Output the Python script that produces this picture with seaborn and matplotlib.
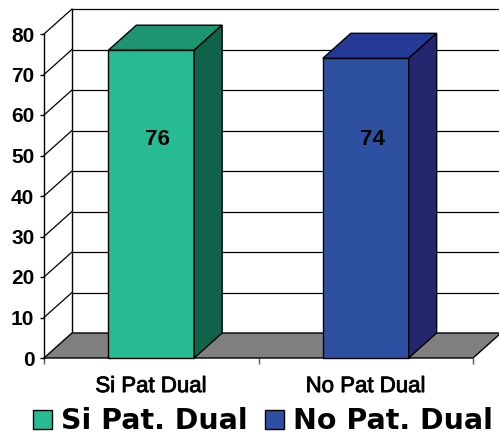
import matplotlib
matplotlib.use("Agg")
import matplotlib.pyplot as plt
import matplotlib.patheffects as pe
import seaborn as sns
import pandas as pd
from matplotlib.patches import Polygon, Patch

# Data
categories = ["Si Pat Dual", "No Pat Dual"]
values = [76, 74]
legend_labels = ["Si Pat. Dual", "No Pat. Dual"]
y_ticks = [0, 10, 20, 30, 40, 50, 60, 70, 80]

# Face colours (front, top, side) for each series
front_colors = ["#27BB93", "#2E50A0"]
top_colors = ["#1E9571", "#243A96"]
side_colors = ["#0F634A", "#25276E"]

sns.set_theme(style="white")
plt.rcParams["font.family"] = ["Liberation Sans", "DejaVu Sans"]
plt.rcParams["text.color"] = "black"
plt.rcParams["xtick.color"] = "black"
plt.rcParams["ytick.color"] = "black"

W, H = 499, 437
fig = plt.figure(figsize=(W / 100, H / 100), dpi=100)
ax = fig.add_axes([44 / W, 79 / H, 429 / W, 324 / H])
ax.set_facecolor("none")

df = pd.DataFrame({"cat": categories, "val": values})
sns.barplot(data=df, x="cat", y="val", hue="cat", palette=front_colors,
            width=0.4, saturation=1, edgecolor="black", linewidth=1,
            legend=False, ax=ax)

ax.set_xlim(-0.5, 1.5)
ax.set_ylim(0, 80)

# depth of the pseudo-3D box in data units
dx = 28 / (429 / 2)
dy = 25 / (324 / 80)
x_left, x_right = -0.5, 1.5

# back wall grid lines and left side wall diagonals
for t in y_ticks:
    if t > 0:
        ax.plot([x_left + dx, x_right + dx + 0.2], [t + dy, t + dy],
                color="black", lw=0.9, zorder=0.5, clip_on=False)
        ax.plot([x_left, x_left + dx], [t, t + dy],
                color="black", lw=0.9, zorder=0.5, clip_on=False)
ax.plot([x_left + dx, x_left + dx], [dy, 80 + dy], color="black", lw=1,
        zorder=0.5, clip_on=False)

# floor
floor = Polygon([(x_left, 0), (x_right, 0), (x_right + dx, dy), (x_left + dx, dy)],
                closed=True, facecolor="#808080", edgecolor="black", lw=1,
                zorder=1, clip_on=False)
ax.add_patch(floor)

# bar top and side faces
for i, p in enumerate(ax.patches[:len(values)]):
    x0, w, h = p.get_x(), p.get_width(), p.get_height()
    p.set_zorder(3)
    p.set_clip_on(False)
    top = Polygon([(x0, h), (x0 + w, h), (x0 + w + dx, h + dy), (x0 + dx, h + dy)],
                  closed=True, facecolor=top_colors[i], edgecolor="black",
                  lw=1, zorder=3, clip_on=False)
    side = Polygon([(x0 + w, 0), (x0 + w + dx, dy), (x0 + w + dx, h + dy), (x0 + w, h)],
                   closed=True, facecolor=side_colors[i], edgecolor="black",
                   lw=1, zorder=3, clip_on=False)
    ax.add_patch(top)
    ax.add_patch(side)
    ax.text(i + 0.03, 54, f"{values[i]}", ha="center", va="center",
            fontsize=16, fontweight="bold", color="black", zorder=5)

# axes styling
for s in ["top", "right", "bottom"]:
    ax.spines[s].set_visible(False)
ax.spines["left"].set_color("black")
ax.spines["left"].set_linewidth(1)
ax.spines["left"].set_zorder(2)

ax.set_yticks(y_ticks)
ax.set_yticklabels([str(t) for t in y_ticks], fontsize=15, fontweight="bold")
ax.tick_params(axis="y", which="major", left=True, length=3, width=1,
               color="black", pad=4, labelcolor="black")

ax.set_xticks([0, 1])
ax.set_xticklabels(categories, fontsize=16, color="black")
for lbl in ax.get_xticklabels():
    lbl.set_path_effects([pe.withStroke(linewidth=0.6, foreground="black")])
ax.tick_params(axis="x", which="major", length=0, pad=13)
ax.set_xticks([-0.5, 0.5, 1.5], minor=True)
ax.tick_params(axis="x", which="minor", bottom=True, length=4, width=1,
               color="#555555")
ax.set_xlabel("")
ax.set_ylabel("")

handles = [Patch(facecolor=c, edgecolor="black", linewidth=1) for c in front_colors]
fig.legend(handles, legend_labels, loc="center", bbox_to_anchor=(0.527, 0.036),
           ncol=2, frameon=False, handlelength=0.68, handleheight=0.68,
           handletextpad=0.32, columnspacing=0.6, borderpad=0,
           labelcolor="black",
           prop={"family": "DejaVu Sans", "weight": "bold", "size": 20.5})

fig.savefig("out.png", dpi=100)
